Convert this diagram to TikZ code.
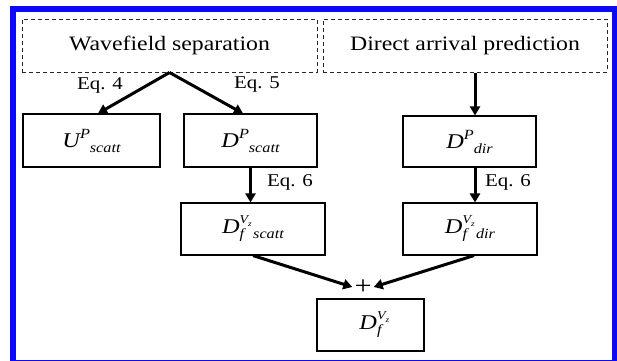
\documentclass[tikz,border=0pt]{standalone}
\usepackage{fontspec}
\setmainfont{Liberation Serif}[FakeStretch=1.16]
\usetikzlibrary{arrows.meta,calc}
\newcommand{\mysup}[1]{\raisebox{9pt}{\fontsize{14}{14}\selectfont\itshape #1}}
\newcommand{\mysub}[1]{\raisebox{-5pt}{\fontsize{14}{14}\selectfont\itshape #1}}
\newcommand{\mysubsup}{\rlap{\raisebox{10pt}{\fontsize{12}{12}\selectfont\itshape V\raisebox{-2.5pt}{\fontsize{8}{8}\selectfont z}}}\raisebox{-5pt}{\fontsize{14}{14}\selectfont\itshape f}\hspace{9pt}}
\begin{document}
\begin{tikzpicture}[x=1pt,y=-1pt,
  box/.style={draw=black, line width=1.1pt, inner sep=0pt, font=\fontsize{21}{24}\selectfont},
  dbox/.style={draw=black!85, dash pattern=on 4pt off 3pt, line width=1pt, inner sep=0pt, font=\fontsize{20.5}{24}\selectfont},
  arr/.style={line width=3pt, -{Triangle[length=9pt,width=10pt]}},
  eq/.style={font=\fontsize{18}{20}\selectfont, inner sep=0pt}]
\useasboundingbox (0,0) rectangle (617,360);
\clip (0,0) rectangle (617,360);
\fill[white] (0,0) rectangle (617,360);
\draw[line width=6pt, draw={rgb,255:red,10;green,10;blue,245}] (13,9) rectangle (615,363);

\node[dbox, minimum width=295pt, minimum height=53pt] (ws) at (169.5,45.5) {Wavefield separation};
\node[dbox, minimum width=284pt, minimum height=53pt] (dap) at (465,45.5) {Direct arrival prediction};

\node[box, minimum width=137pt, minimum height=53pt] (u) at (91.5,140.5) {\itshape U\mysup{P}\mysub{scatt}};
\node[box, minimum width=133pt, minimum height=53pt] (dps) at (250.5,140.5) {\itshape D\mysup{P}\mysub{scatt}};
\node[box, minimum width=133pt, minimum height=51pt] (dpd) at (469.5,141.5) {\itshape D\mysup{P}\mysub{dir}};
\node[box, minimum width=144pt, minimum height=52pt] (dfs) at (253,229) {\itshape D\mysubsup\mysub{scatt}};
\node[box, minimum width=134pt, minimum height=52pt] (dfd) at (470,229) {\itshape D\mysubsup\mysub{dir}};
\node[box, minimum width=107pt, minimum height=52pt] (df) at (370.5,325) {\itshape D\mysubsup};
\node[font=\fontsize{26}{28}\selectfont, inner sep=1pt] (plus) at (363,287) {+};

\node[eq] (e4) at (100,85) {Eq. 4};
\node[eq] (e5) at (257,85) {Eq. 5};
\node[eq] (e6a) at (290,182) {Eq. 6};
\node[eq] (e6b) at (508,182) {Eq. 6};

\draw[arr] (ws.south) -- ([xshift=6.5pt]u.north);
\draw[arr] (ws.south) -- ([xshift=-7.5pt]dps.north);
\draw[arr] (dps.south) -- (dps.south |- dfs.north);
\draw[arr] ([xshift=10pt]dap.south) -- ([xshift=10pt]dap.south |- dpd.north);
\draw[arr] ([xshift=5.5pt]dpd.south) -- ([xshift=5.5pt]dpd.south |- dfd.north);
\draw[arr] (dfs.south) -- ([xshift=-1pt]plus.west);
\draw[arr] ([xshift=4pt]dfd.south) -- ([xshift=1pt]plus.east);
\end{tikzpicture}
\end{document}
